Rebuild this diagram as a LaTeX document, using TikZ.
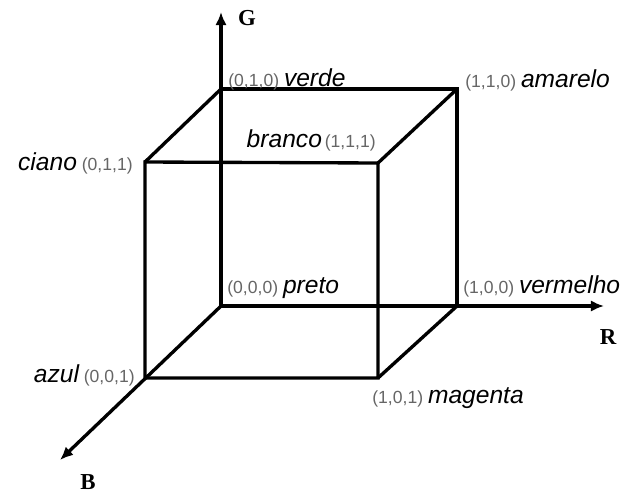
\documentclass[tikz,border=0pt]{standalone}
\usepackage{fontspec}
\setmainfont{Liberation Serif}
\setsansfont{Liberation Sans}
\usetikzlibrary{arrows.meta,positioning,calc}

\newcommand{\tup}[1]{{\fontsize{10}{12}\selectfont\color{black!60}(#1)}}
\newcommand{\cname}[1]{{\fontsize{14}{16}\selectfont\itshape #1}}

\begin{document}
\begin{tikzpicture}[x=0.02cm, y=-0.02cm,
  edge/.style={line width=1.9pt, draw=black},
  axis/.style={edge, -{Latex[length=7.5pt,width=6.5pt]}},
  lbl/.style={font=\sffamily, inner sep=0pt},
  axlbl/.style={font=\bfseries\fontsize{13}{15}\selectfont, inner sep=0pt},
]
\useasboundingbox (0,0) rectangle (629,494);

% Cube corners (back face z=0, front face z=1)
\coordinate (preto) at (221,306);
\coordinate (vermelho) at (457,306);
\coordinate (amarelo) at (457,89);
\coordinate (verde) at (221,89);
\coordinate (azul) at (145,378);
\coordinate (magenta) at (378,378);
\coordinate (branco) at (378,163);
\coordinate (ciano) at (145,162);

% Axis ends
\coordinate (rtip) at (604,306);
\coordinate (gtip) at (221,12);
\coordinate (btip) at (60,460);

% Axes
\draw[axis] (preto) -- (rtip);
\draw[axis] (preto) -- (gtip);
\draw[axis] (preto) -- (btip);
\node[axlbl] (rlbl) at (608,337) {R};
\node[axlbl] (glbl) at (247,18) {G};
\node[axlbl] (blbl) at (88,482) {B};

% Cube edges
\draw[edge] (azul) -- (magenta) -- (branco) -- (ciano) -- cycle;
\draw[edge] (verde) -- (amarelo) -- (vermelho);
\draw[edge] (ciano) -- (verde);
\draw[edge] (branco) -- (amarelo);
\draw[edge] (magenta) -- (vermelho);

% Corner labels
\node[lbl, anchor=base west] (verdelbl) at ($(verde)+(7,-3)$) {\tup{0,1,0} \cname{verde}};
\node[lbl, anchor=base west] (amarelolbl) at ($(amarelo)+(8,-2)$) {\tup{1,1,0} \cname{amarelo}};
\node[lbl, anchor=base east] (cianolbl) at ($(ciano)+(-12,8)$) {\cname{ciano} \tup{0,1,1}};
\node[lbl, anchor=base east] (brancolbl) at ($(branco)+(-2,-16)$) {\cname{branco}\,\tup{1,1,1}};
\node[lbl, anchor=base west] (pretolbl) at ($(preto)+(6,-13)$) {\tup{0,0,0} \cname{preto}};
\node[lbl, anchor=base west] (vermelholbl) at ($(vermelho)+(6,-13)$) {\tup{1,0,0} \cname{vermelho}};
\node[lbl, anchor=base east] (azullbl) at ($(azul)+(-10,4)$) {\cname{azul} \tup{0,0,1}};
\node[lbl, anchor=base west] (magentalbl) at ($(magenta)+(-6,25)$) {\tup{1,0,1} \cname{magenta}};

\end{tikzpicture}
\end{document}
